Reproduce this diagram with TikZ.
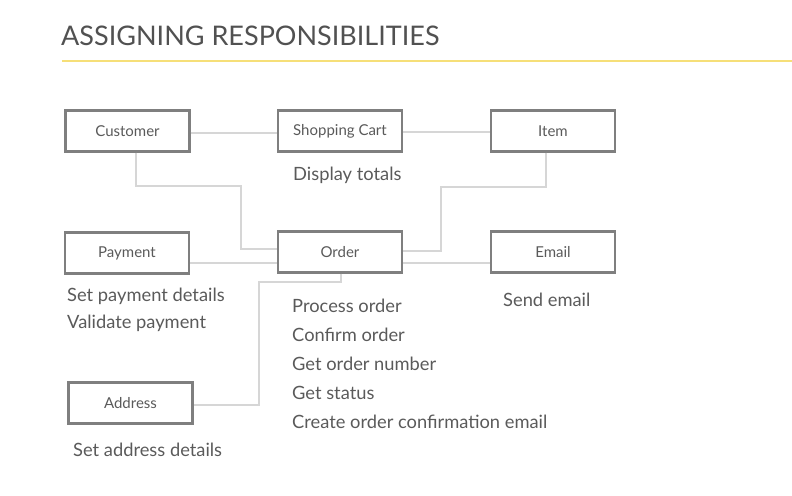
\documentclass[tikz,border=0pt]{standalone}
\usepackage{fontspec}
\setmainfont{Lato}
\usepackage{tikz}

\definecolor{boxgrey}{HTML}{7F7F7F}
\definecolor{textgrey}{HTML}{5A5A5A}
\definecolor{linkgrey}{HTML}{D6D6D6}
\definecolor{bannery}{HTML}{F6DF78}

\tikzset{
  classbox/.style={draw=boxgrey, line width=2.4pt, minimum width=124pt, minimum height=41pt,
    inner sep=0pt, text=textgrey, font=\fontsize{15}{16}\selectfont},
  link/.style={draw=linkgrey, line width=2pt},
  duty/.style={anchor=base west, inner sep=0pt, text=textgrey, align=left,
    font=\fontsize{18.3}{29}\selectfont}
}

\begin{document}
\begin{tikzpicture}[x=1pt, y=-1pt]
		\useasboundingbox (0,0) rectangle (792,495);
		
		% heading
		\node[anchor=base west, inner sep=0pt, text=textgrey!90!black, font=\fontsize{27}{30}\selectfont] (title) at (61,46) {ASSIGNING RESPONSIBILITIES};
		\draw[bannery, line width=2.5pt] (62,61) -- (792,61);
		
		% classes
		\node[classbox] (customer) at (127.5,131) {Customer};
		\node[classbox] (cart) at (340,131) {Shopping Cart};
		\node[classbox] (item) at (553,131) {Item};
		\node[classbox] (payment) at (127,253) {Payment};
		\node[classbox] (order) at (340,252) {Order};
		\node[classbox] (email) at (553,252) {Email};
		\node[classbox] (address) at (130.5,403) {Address};
		
		% links
		\draw[link] ([yshift=-2pt]customer.east) -- ([yshift=-2pt]cart.west);
		\draw[link] ([yshift=-1pt]cart.east) -- ([yshift=-1pt]item.west);
		\draw[link] ([xshift=8.5pt]customer.south) |- (241,186) |- ([yshift=3pt]order.west);
		\draw[link] ([xshift=-7pt]item.south) |- (441,187) |- ([yshift=1pt]order.east);
		\draw[link] ([yshift=-11pt]order.east) -- ([yshift=-11pt]order.east -| email.west);
		\draw[link] ([yshift=-10pt]payment.east) -- ([yshift=-11pt]order.west);
		\draw[link] ([xshift=1pt]order.south) |- (259,282) |- ([yshift=-2pt]address.east);
		
		% responsibilities (base = last line)
		\node[duty] (carttext) at (293,180) {Display totals};
		\node[duty, font=\fontsize{18.3}{27}\selectfont] (paytext) at (67,328) {Set payment details\\Validate payment};
		\node[duty] (ordertext) at (292,428) {Process order\\Confirm order\\Get order number\\Get status\\Create order confirmation email};
		\node[duty] (emailtext) at (503,306) {Send email};
		\node[duty] (addresstext) at (73,456) {Set address details};
	\end{tikzpicture}
\end{document}
